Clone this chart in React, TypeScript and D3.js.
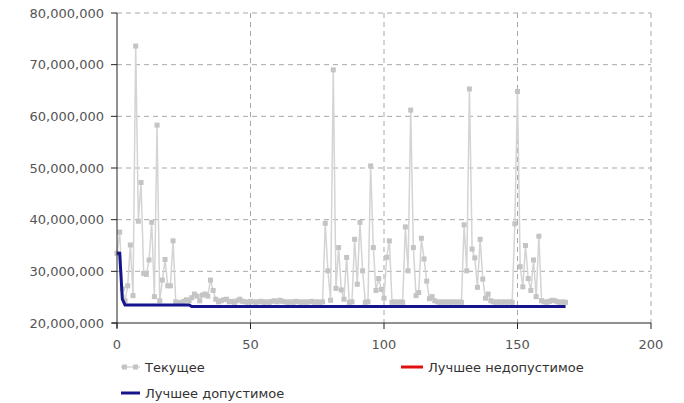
import React from 'react';
import * as d3 from 'd3';

// values in millions, one per iteration (0..168)
const currentValues = [
  33.5, 37.6, 26.6, 24.3, 27.2, 35.1, 25.3, 73.6, 39.7, 47.2,
  29.6, 29.4, 32.2, 39.5, 25.1, 58.3, 24.3, 28.3, 32.3, 27.2,
  27.2, 35.9, 24.1, 23.9, 24.0, 24.2, 24.5, 24.3, 24.9, 25.6,
  25.2, 24.3, 25.4, 25.6, 25.2, 28.3, 26.3, 24.6, 24.1, 24.3,
  24.5, 24.6, 24.1, 24.2, 24.0, 24.3, 24.6, 24.2, 24.1, 24.0,
  24.2, 24.1, 24.0, 24.1, 24.2, 24.0, 24.1, 24.0, 24.2, 24.3,
  24.1, 24.4, 24.2, 24.1, 24.0, 24.1, 24.0, 24.2, 24.1, 24.0,
  24.1, 24.0, 24.1, 24.2, 24.0, 24.1, 24.0, 24.1, 39.3, 30.1,
  24.4, 69.0, 26.7, 34.6, 26.4, 24.6, 32.7, 24.0, 24.1, 36.2,
  27.5, 39.5, 30.1, 24.0, 24.1, 50.4, 34.6, 26.3, 28.6, 26.5,
  24.8, 32.7, 35.9, 24.0, 24.1, 24.0, 24.1, 24.0, 38.6, 30.1,
  61.2, 34.6, 25.3, 25.9, 36.4, 32.4, 28.1, 24.7, 25.1, 24.3,
  24.1, 24.0, 24.1, 24.0, 24.1, 24.0, 24.1, 24.0, 24.1, 24.0,
  39.0, 30.1, 65.3, 34.3, 32.6, 26.9, 36.2, 28.5, 24.8, 25.6,
  24.3, 24.1, 24.0, 24.1, 24.0, 24.1, 24.0, 24.1, 24.0, 39.2,
  64.8, 30.9, 27.0, 35.0, 28.6, 26.3, 32.2, 25.1, 36.8, 24.3,
  24.1, 24.0, 24.2, 24.4, 24.3, 24.1, 24.0, 24.1, 24.0,
];

// best feasible: change points only
const bestIters = [0, 1, 2, 3, 27, 28, 168];
const bestValues = [33.5, 33.5, 24.6, 23.5, 23.5, 23.2, 23.2];

const xTicks = [0, 50, 100, 150, 200];
const yTicks = [20, 30, 40, 50, 60, 70, 80];

const legendLabels = ['Текущее', 'Лучшее недопустимое', 'Лучшее допустимое'];

const W = 684;
const H = 403;
const left = 117;
const right = 651;
const top = 13;
const bottom = 323;

const font = '"DejaVu Sans", Verdana, sans-serif';

export default function App() {
  const x = d3.scaleLinear().domain([0, 200]).range([left, right]);
  const y = d3.scaleLinear().domain([20, 80]).range([bottom, top]);
  const fmt = (v: number) => d3.format(',')(v * 1e6);

  const currentLine = d3
    .line<number>()
    .x((_, i) => x(i))
    .y((d) => y(d))(currentValues);

  const bestLine = d3
    .line<number>()
    .x((d) => x(d))
    .y((_, i) => y(bestValues[i]))(bestIters);

  return (
    <div style={{ position: 'absolute', left: 0, top: 0, width: W, height: H, background: '#fff' }}>
      <svg width={W} height={H} style={{ display: 'block', fontFamily: font }}>
        {/* grid */}
        {yTicks.filter((t) => t !== 20).map((t) => (
          <line key={'gy' + t} x1={left} x2={right} y1={y(t)} y2={y(t)}
            stroke="#a8a8a8" strokeDasharray="5,4" />
        ))}
        {xTicks.filter((t) => t !== 0).map((t) => (
          <line key={'gx' + t} x1={x(t)} x2={x(t)} y1={top} y2={bottom}
            stroke="#a8a8a8" strokeDasharray="5,4" />
        ))}

        {/* current */}
        <path d={currentLine || ''} fill="none" stroke="#d4d4d4" strokeWidth={1.5} />
        {currentValues.map((v, i) => (
          <rect key={i} x={x(i) - 2.5} y={y(v) - 2.5} width={5} height={5} fill="#c4c4c4" />
        ))}

        {/* best feasible */}
        <path d={bestLine || ''} fill="none" stroke="#14148c" strokeWidth={3} />

        {/* axes */}
        <line x1={left} x2={left} y1={top} y2={bottom + 5} stroke="#222" />
        <line x1={left - 5} x2={right} y1={bottom} y2={bottom} stroke="#222" />
        {yTicks.map((t) => (
          <g key={'ty' + t}>
            <line x1={left - 6} x2={left} y1={y(t)} y2={y(t)} stroke="#222" />
            <text x={left - 13} y={y(t)} dy="0.35em" textAnchor="end" fontSize={13} fill="#555">
              {fmt(t)}
            </text>
          </g>
        ))}
        {xTicks.map((t) => (
          <g key={'tx' + t}>
            <line x1={x(t)} x2={x(t)} y1={bottom} y2={bottom + 6} stroke="#222" />
            <text x={x(t)} y={bottom + 21} dy="0.35em" textAnchor="middle" fontSize={13} fill="#555">
              {t}
            </text>
          </g>
        ))}

        {/* legend */}
        <g fontSize={13} fill="#333">
          <line x1={121} x2={140} y1={367} y2={367} stroke="#d4d4d4" strokeWidth={1.5} />
          <rect x={122} y={364.5} width={5} height={5} fill="#c4c4c4" />
          <rect x={133} y={364.5} width={5} height={5} fill="#c4c4c4" />
          <text x={145} y={367} dy="0.35em">{legendLabels[0]}</text>

          <line x1={401} x2={423} y1={367} y2={367} stroke="#e01010" strokeWidth={3} />
          <text x={428} y={367} dy="0.35em">{legendLabels[1]}</text>

          <line x1={121} x2={140} y1={393} y2={393} stroke="#14148c" strokeWidth={3} />
          <text x={145} y={393} dy="0.35em">{legendLabels[2]}</text>
        </g>
      </svg>
    </div>
  );
}
